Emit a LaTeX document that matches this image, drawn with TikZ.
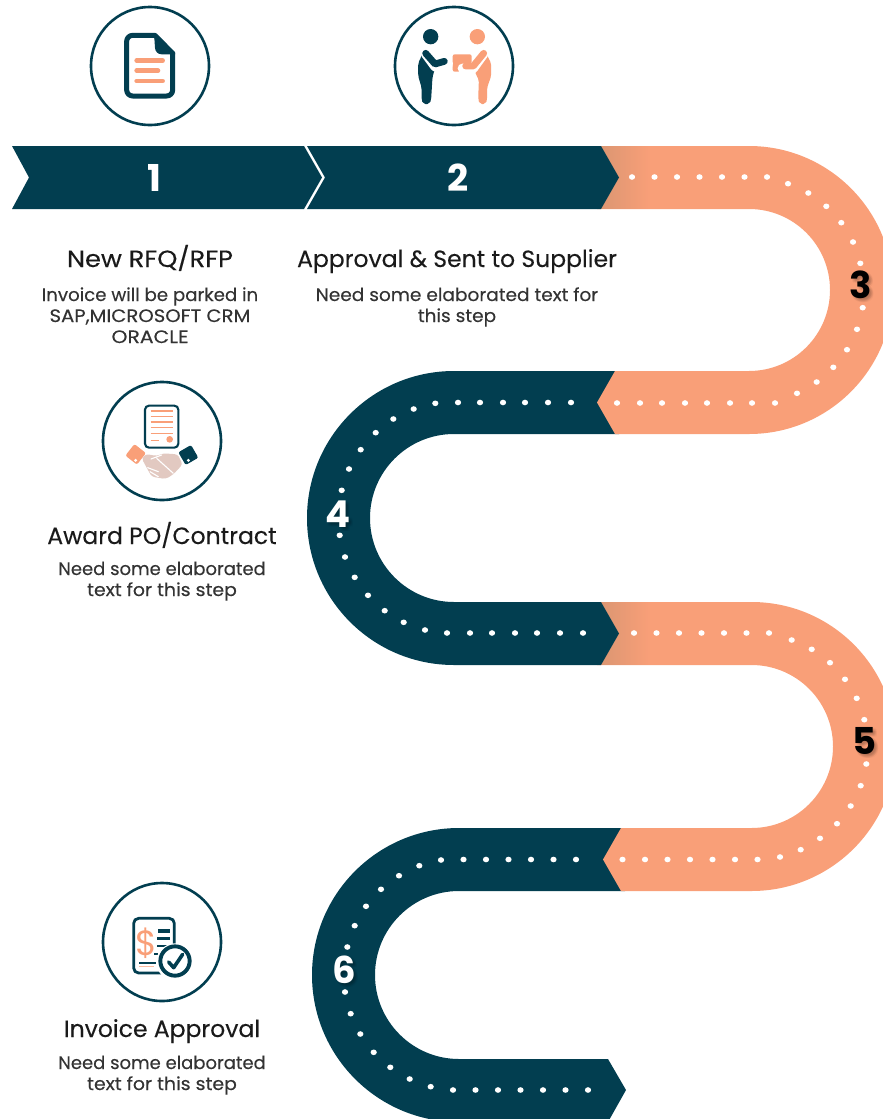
\documentclass[tikz,border=0pt]{standalone}
\usepackage{fontspec}
\setmainfont{Poppins}
\newfontfamily\bodyfont[FakeBold=0.25]{Poppins}
\newfontfamily\titlefont[FakeBold=0.2]{Poppins}
\definecolor{navy}{HTML}{023E50}
\definecolor{peach}{HTML}{F99F78}
\definecolor{peachdk}{HTML}{DB9672}
\definecolor{pale}{HTML}{E2C9C1}
\definecolor{ink}{HTML}{1A1A1A}
\definecolor{body}{HTML}{333333}
\tikzset{
  titletext/.style={inner sep=0pt,anchor=base,text=ink,font=\titlefont\fontsize{23.5}{25}\selectfont},
  bodytext/.style={inner sep=0pt,anchor=base,text=body,font=\bodyfont\fontsize{18}{20}\selectfont},
  digit/.style={inner sep=0pt,font=\fontsize{37}{37}\selectfont\bfseries},
  ring/.style={draw=navy,line width=2.6pt,fill=white},
  arm/.style={line cap=round,line join=round,line width=6.8pt},
  armgap/.style={line cap=round,line join=round,line width=9.4pt,draw=white},
}
\newcommand{\dotsat}[1]{\foreach \px/\py in {#1} \fill[white] (\px,\py) ellipse[x radius=3.1,y radius=2.8];}
\newcommand{\digitshadow}[3]{\foreach \dx/\dy in {1/1,2/2,3/3,4/4,3/1,1/3,2/4,4/2}
  \node[digit,text=black,opacity=.035] at (#1+\dx,#2+\dy) {#3};}
\begin{document}
\begin{tikzpicture}[x=1pt,y=1pt,yscale=-1]
\useasboundingbox (0,0) rectangle (883,1119);
\clip (0,0) rectangle (883,1119);
% road, from the lowest layer up
\fill[navy] (626,1090) -- (608,1122) -- (459,1122) arc[start angle=90,end angle=270,radius=147]
  -- (625,828) -- (607,860) -- (625,891) -- (459,891)
  arc[start angle=-90,end angle=-270,radius=84] -- (608,1059) -- cycle;
\fill[peach] (597,602) -- (751.5,602) arc[start angle=-90,end angle=90,radius=144.5]
  -- (621,891) -- (603,859.5) -- (621,828) -- (751.5,828)
  arc[start angle=90,end angle=-90,radius=81.5] -- (597,665) -- cycle;
\shade[left color=peachdk,right color=peach] (600,602.4) rectangle (650,664.6);
\fill[navy] (619,633.5) -- (601,665) -- (454,665) arc[start angle=90,end angle=270,radius=147]
  -- (619,371) -- (601,402.5) -- (619,434) -- (454,434)
  arc[start angle=-90,end angle=-270,radius=84] -- (601,602) -- cycle;
\fill[peach] (597,146) -- (749,146) arc[start angle=-90,end angle=90,radius=144]
  -- (615,434) -- (597,402.5) -- (615,371) -- (749,371)
  arc[start angle=90,end angle=-90,radius=81] -- (597,209) -- cycle;
\shade[left color=peachdk,right color=peach] (600,146.4) rectangle (650,208.6);
\fill[navy] (307,146) -- (601,146) -- (619,177.5) -- (601,209) -- (307,209) -- (325,177.5) -- cycle;
\fill[navy] (12,146) -- (304,146) -- (322,177.5) -- (304,209) -- (12,209) -- (29,177.5) -- cycle;
% dots
\dotsat{632/177,654.5/177,677/177,699.5/177,722/177,744.5/177,767/177,
  788/183.7,808.3/193,826.3/206.3,841.3/222.7,853/242,860.3/263.3,862.7/307.7,857/329.3,847/349.7,833.3/367.3,816.7/382,797/393.3,
  775/403,752/403,730/403,707/403,685/403,662/403,640/403,617/403}
\dotsat{435.3/403.3,458/402.5,480/402.5,503/402.5,525/402.5,548/402.5,571/402.5,
  413.7/409,393.3/419,375.7/432.7,360.7/449.7,349/469,341.7/490.3,339.7/535.3,345/557,354.7/577.3,368/595.3,384.7/610.7,403.7/622.3,425/630,
  447/633,470/633,492/633,515/633,537/633,560/633,583/633}
\dotsat{634/633,656.5/633,679/633,701.5/633,724/633,746.5/633,769/633,
  791.7/640,811.7/649.3,830/662.7,845/679.3,856.7/698.3,864.3/719.7,866.3/764,860.7/785.7,850.7/806,837/823.7,820/838.3,800.7/849.7,780/857,
  757.5/859.5,735/859.5,712.5/859.5,690/859.5,667.5/859.5,645/859.5,622.5/859.5}
\dotsat{441/860,463.5/859.5,486/859.5,508.5/859.5,531/859.5,553.5/859.5,576/859.5,
  419.3/865.7,399/875.7,381/889.3,366/906.3,354.7/925.7,347.3/947,345/992,350.7/1013.7,360.3/1034,373.7/1052.3,390.3/1067.3,409.7/1079,430.7/1086.7,
  453/1090,475.5/1090,498/1090,520.5/1090,543/1090,565.5/1090,588/1090}
% digits
\node[digit,text=white] (n1) at (154,178) {1};
\node[digit,text=white] (n2) at (458,178) {2};
\digitshadow{861}{285}{3}
\node[digit,text=black] (n3) at (861,285) {3};
\digitshadow{338}{514}{4}
\node[digit,text=white] (n4) at (338,514) {4};
\digitshadow{865}{741}{5}
\node[digit,text=black] (n5) at (865,741) {5};
\digitshadow{344}{970}{6}
\node[digit,text=white] (n6) at (344,970) {6};
% icon rings
\draw[ring] (150,66) circle[radius=59];
\draw[ring] (454,66) circle[radius=59];
\draw[ring] (162,441) circle[radius=59];
\draw[ring] (162,942) circle[radius=59];
% icon 1: document
\begin{scope}[shift={(80,0)},scale=1/3]
  \draw[navy,line width=5pt,line join=round] (156,106) -- (225,106) -- (278,160) -- (278,270)
    arc[start angle=0,end angle=90,radius=18] -- (158,288) arc[start angle=90,end angle=180,radius=18]
    -- (140,124) arc[start angle=180,end angle=270,radius=18] -- cycle;
  \fill[navy] (222,100) -- (285,157) -- (285,163) -- (245,163) arc[start angle=90,end angle=180,radius=20] -- cycle;
  \draw[peach,line width=4.6pt,line cap=round] (170,182) -- (248,182) (170,212) -- (234,212) (170,243) -- (248,243);
\end{scope}
% icon 2: two people and a parcel
\begin{scope}[shift={(385,0)},scale=1/3]
  \fill[navy] (137,110) circle[radius=23];
  \fill[peach] (277,110) circle[radius=23];
  \fill[peach,rounded corners=2pt] (203,163) rectangle (260,215);
  \filldraw[navy,line width=1.6pt,line join=round,rounded corners=2pt] (102,228) -- (102,190) -- (118,156) -- (150,195) -- (140,232) -- (136,298) -- (132,310) -- (116,310) -- (112,298) -- (112,262) -- cycle;
  \draw[armgap] (122,162) -- (150,200) -- (190,192);
  \draw[navy,arm] (122,160) -- (150,192) -- (178,184);
  \filldraw[peach,line width=1.6pt,line join=round,rounded corners=2pt] (316,228) -- (316,190) -- (298,156) -- (272,215) -- (284,240) -- (282,298) -- (286,310) -- (300,310) -- (304,298) -- (304,262) -- cycle;
  \draw[armgap] (296,162) -- (265,205) -- (232,205);
  \draw[peach,arm] (296,160) -- (265,198) -- (242,198);
\end{scope}
% icon 3: contract and handshake
\begin{scope}[shift={(95,375)},scale=1/3]
  \draw[navy,line width=2.1pt,rounded corners=4pt,fill=white] (150,92) rectangle (250,218);
  \draw[peach,line width=1.3pt] (167,108) -- (234,108) (167,125) -- (234,125) (167,141) -- (234,141) (167,157) -- (234,157) (167,175) -- (234,175);
  \draw[peach,line width=1.3pt] (167,197) -- (192,197);
  \fill[peach] (224,193) circle[radius=10];
  \fill[peach,rounded corners=2pt,rotate around={38:(122,238)}] (100,216) rectangle (144,260);
  \fill[white] (122,256) circle[radius=5];
  \fill[navy,rounded corners=2pt,rotate around={-30:(280,240)}] (258,218) rectangle (302,262);
  \fill[white] (280,256) circle[radius=5];
  \fill[pale,rounded corners=3pt] (140,250) -- (153,237) -- (185,243) -- (205,235) -- (248,238) -- (263,268) -- (235,298) -- (212,312) -- (170,305) -- (155,278) -- cycle;
  \draw[white,line width=1.1pt,line cap=round] (168,252) -- (200,240) (185,250) -- (235,295) (158,278) -- (190,290) (165,290) -- (190,305);
\end{scope}
% icon 4: invoice and check
\begin{scope}[shift={(95,877)},scale=1/3]
  \draw[navy,line width=2.8pt,rounded corners=5pt] (116,124) rectangle (238,288);
  \node[inner sep=0pt,text=peach,font=\fontsize{35}{35}\selectfont] (dollar) at (155,200) {\$};
  \draw[navy,line width=3.3pt] (190,162) -- (226,162) (186,185) -- (226,185);
  \draw[navy,line width=2.2pt] (186,208) -- (215,208) (178,232) -- (190,232) (133,258) -- (182,258);
  \draw[peach!70,line width=1.2pt] (133,268) -- (178,268);
  \fill[white] (240,255) circle[radius=56];
  \draw[navy,line width=3.9pt] (240,252) circle[radius=44];
  \draw[navy,line width=3.6pt,line cap=round,line join=round] (221,255) -- (236,272) -- (263,232);
\end{scope}
% texts
\node[titletext,xscale=1.09] (t1) at (150,267) {New RFQ/RFP};
\node[bodytext,xscale=1.01] (b1a) at (150,301) {Invoice will be parked in};
\node[bodytext,xscale=1.09] (b1b) at (150,322) {SAP,MICROSOFT CRM};
\node[bodytext,xscale=1.13] (b1c) at (150,343) {ORACLE};
\node[titletext] (t2) at (457,267) {Approval \& Sent to Supplier};
\node[bodytext,xscale=1.03] (b2a) at (457,301) {Need some elaborated text for};
\node[bodytext,xscale=1.03] (b2b) at (457,322) {this step};
\node[titletext] (t3) at (162,544) {Award PO/Contract};
\node[bodytext] (b3a) at (162,575) {Need some elaborated};
\node[bodytext,xscale=1.05] (b3b) at (162,596) {text for this step};
\node[titletext] (t4) at (162,1037) {Invoice Approval};
\node[bodytext] (b4a) at (162,1069) {Need some elaborated};
\node[bodytext,xscale=1.05] (b4b) at (162,1090) {text for this step};
\end{tikzpicture}
\end{document}
